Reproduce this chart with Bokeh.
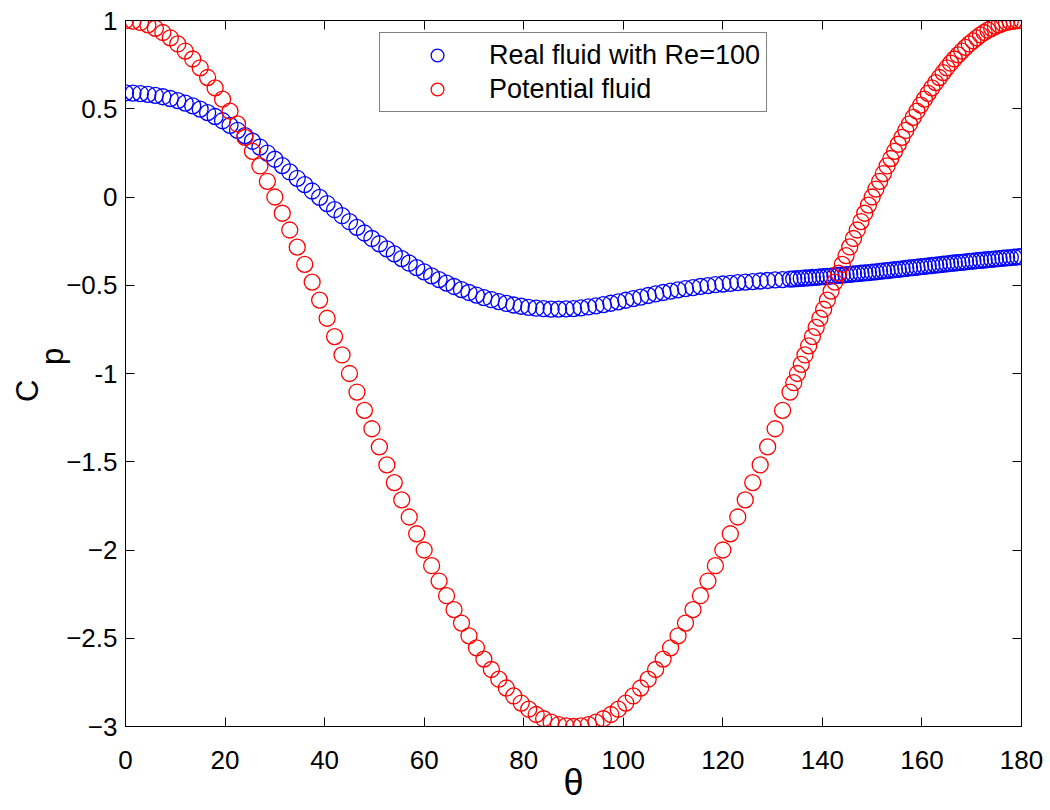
import math
from bokeh.plotting import figure
from bokeh.models import (ColumnDataSource, FixedTicker, LinearAxis, Legend,
                          LegendItem, CustomJSTickFormatter, Range1d)
from bokeh.embed import file_html
from bokeh.resources import INLINE

# ---------------- data ----------------
theta_coarse = [0, 1.5, 3, 4.5, 6, 7.5, 9, 10.5, 12, 13.5,
                15, 16.5, 18, 19.5, 21, 22.5, 24, 25.5, 27, 28.5,
                30, 31.5, 33, 34.5, 36, 37.5, 39, 40.5, 42, 43.5,
                45, 46.5, 48, 49.5, 51, 52.5, 54, 55.5, 57, 58.5,
                60, 61.5, 63, 64.5, 66, 67.5, 69, 70.5, 72, 73.5,
                75, 76.5, 78, 79.5, 81, 82.5, 84, 85.5, 87, 88.5,
                90, 91.5, 93, 94.5, 96, 97.5, 99, 100.5, 102, 103.5,
                105, 106.5, 108, 109.5, 111, 112.5, 114, 115.5, 117, 118.5,
                120, 121.5, 123, 124.5, 126, 127.5, 129, 130.5, 132, 133.5]
theta_fine = [134.25, 135, 135.75, 136.5, 137.25, 138, 138.75, 139.5, 140.25, 141,
              141.75, 142.5, 143.25, 144, 144.75, 145.5, 146.25, 147, 147.75, 148.5,
              149.25, 150, 150.75, 151.5, 152.25, 153, 153.75, 154.5, 155.25, 156,
              156.75, 157.5, 158.25, 159, 159.75, 160.5, 161.25, 162, 162.75, 163.5,
              164.25, 165, 165.75, 166.5, 167.25, 168, 168.75, 169.5, 170.25, 171,
              171.75, 172.5, 173.25, 174, 174.75, 175.5, 176.25, 177, 177.75, 178.5,
              179.25, 180]

cp_real_coarse = [0.590, 0.589, 0.586, 0.582, 0.576, 0.568, 0.558, 0.546, 0.532, 0.516,
                  0.498, 0.478, 0.456, 0.432, 0.406, 0.378, 0.348, 0.316, 0.283, 0.249,
                  0.214, 0.178, 0.142, 0.106, 0.070, 0.034, -0.002, -0.037, -0.072, -0.106,
                  -0.140, -0.172, -0.204, -0.235, -0.265, -0.294, -0.322, -0.349, -0.375, -0.400,
                  -0.424, -0.447, -0.468, -0.488, -0.507, -0.525, -0.541, -0.556, -0.570, -0.582,
                  -0.593, -0.603, -0.612, -0.619, -0.625, -0.630, -0.633, -0.635, -0.635, -0.634,
                  -0.632, -0.628, -0.623, -0.617, -0.610, -0.602, -0.594, -0.585, -0.576, -0.567,
                  -0.558, -0.549, -0.541, -0.533, -0.526, -0.519, -0.513, -0.507, -0.502, -0.497,
                  -0.493, -0.489, -0.485, -0.482, -0.479, -0.476, -0.473, -0.470, -0.468, -0.465]
cp_real_fine = [-0.464, -0.462, -0.461, -0.459, -0.458, -0.456, -0.455, -0.453, -0.451, -0.450,
                -0.448, -0.446, -0.444, -0.442, -0.440, -0.438, -0.436, -0.434, -0.432, -0.430,
                -0.428, -0.426, -0.424, -0.421, -0.419, -0.417, -0.414, -0.412, -0.410, -0.407,
                -0.405, -0.402, -0.400, -0.398, -0.395, -0.393, -0.390, -0.388, -0.386, -0.383,
                -0.381, -0.379, -0.376, -0.374, -0.372, -0.370, -0.367, -0.365, -0.363, -0.361,
                -0.359, -0.357, -0.355, -0.353, -0.351, -0.349, -0.347, -0.345, -0.343, -0.341,
                -0.339, -0.338]

cp_pot_coarse = [1.000, 0.997, 0.989, 0.975, 0.956, 0.932, 0.902, 0.867, 0.827, 0.782,
                 0.732, 0.677, 0.618, 0.554, 0.486, 0.414, 0.338, 0.259, 0.176, 0.089,
                 0.000, -0.092, -0.187, -0.284, -0.382, -0.482, -0.584, -0.687, -0.791, -0.895,
                 -1.000, -1.105, -1.209, -1.313, -1.416, -1.518, -1.618, -1.716, -1.813, -1.908,
                 -2.000, -2.089, -2.176, -2.259, -2.338, -2.414, -2.486, -2.554, -2.618, -2.677,
                 -2.732, -2.782, -2.827, -2.867, -2.902, -2.932, -2.956, -2.975, -2.989, -2.997,
                 -3.000, -2.997, -2.989, -2.975, -2.956, -2.932, -2.902, -2.867, -2.827, -2.782,
                 -2.732, -2.677, -2.618, -2.554, -2.486, -2.414, -2.338, -2.259, -2.176, -2.089,
                 -2.000, -1.908, -1.813, -1.716, -1.618, -1.518, -1.416, -1.313, -1.209, -1.105]
cp_pot_fine = [-1.052, -1.000, -0.948, -0.895, -0.843, -0.791, -0.739, -0.687, -0.636, -0.584,
               -0.533, -0.482, -0.432, -0.382, -0.332, -0.283, -0.235, -0.187, -0.139, -0.092,
               -0.046, 0.000, 0.045, 0.089, 0.133, 0.176, 0.218, 0.259, 0.299, 0.338,
               0.377, 0.414, 0.451, 0.486, 0.521, 0.554, 0.587, 0.618, 0.648, 0.677,
               0.705, 0.732, 0.758, 0.782, 0.805, 0.827, 0.848, 0.867, 0.885, 0.902,
               0.918, 0.932, 0.945, 0.956, 0.967, 0.975, 0.983, 0.989, 0.994, 0.997,
               0.999, 1.000]

x_ticks = [0, 20, 40, 60, 80, 100, 120, 140, 160, 180]
y_ticks = [-3, -2.5, -2, -1.5, -1, -0.5, 0, 0.5, 1]
series_labels = ["Real fluid with Re=100", "Potential fluid"]
x_title = "θ"
NB = "\u00a0"
y_title = "C" + NB * 4 + "\n" + NB * 4 + "p"   # C with subscript p

# ---------------- figure ----------------
FONT = "Liberation Sans"
theta = theta_coarse + theta_fine
src = ColumnDataSource(dict(theta=theta,
                            real=cp_real_coarse + cp_real_fine,
                            pot=cp_pot_coarse + cp_pot_fine))

p = figure(width=1050, height=810, output_backend="svg", toolbar_location=None,
           x_range=Range1d(0, 180), y_range=Range1d(-3, 1),
           min_border_left=125, min_border_right=29, min_border_top=20, min_border_bottom=84)
p.background_fill_color = "white"
p.border_fill_color = "white"
p.outline_line_color = "black"
p.outline_line_width = 1
p.xgrid.visible = False
p.ygrid.visible = False


def style_axis(ax, ticks, show_labels=True):
    ax.ticker = FixedTicker(ticks=ticks)
    ax.major_tick_in = 9
    ax.major_tick_out = 0
    ax.minor_tick_in = 0
    ax.minor_tick_out = 0
    ax.axis_line_color = "black"
    ax.axis_line_width = 1
    ax.major_tick_line_color = "black"
    ax.major_tick_line_width = 1
    ax.major_label_text_font = FONT
    if show_labels:
        ax.major_label_text_font_size = "26px"
        ax.major_label_text_color = "black"
    else:
        ax.major_label_text_font_size = "1px"
        ax.major_label_text_color = None
        ax.major_label_standoff = 0


xa = p.xaxis[0]
ya = p.yaxis[0]
style_axis(xa, x_ticks)
style_axis(ya, y_ticks)
xa.major_label_standoff = 24
ya.major_label_standoff = 8
ya.formatter = CustomJSTickFormatter(
    code="if (tick == -1) { return '-1'; } return tick < 0 ? '\u2212' + String(-tick) : String(tick);")

xa.axis_label = x_title
xa.axis_label_text_font = FONT
xa.axis_label_text_font_size = "36px"
xa.axis_label_text_font_style = "normal"
xa.axis_label_text_color = "black"
xa.axis_label_standoff = -10

ya.axis_label = y_title
ya.axis_label_text_font = FONT
ya.axis_label_text_font_size = "31px"
ya.axis_label_text_font_style = "normal"
ya.axis_label_text_color = "black"
ya.axis_label_text_line_height = 0.72
ya.axis_label_standoff = -7

ax_top = LinearAxis()
style_axis(ax_top, x_ticks, show_labels=False)
p.add_layout(ax_top, "above")
ax_right = LinearAxis()
style_axis(ax_right, y_ticks, show_labels=False)
p.add_layout(ax_right, "right")

r_real = p.scatter(x="theta", y="real", source=src, marker="circle", size=16,
                   fill_color=None, line_color="#0000FF", line_width=1.3)
r_pot = p.scatter(x="theta", y="pot", source=src, marker="circle", size=16,
                  fill_color=None, line_color="#FF0000", line_width=1.3)

legend = Legend(items=[LegendItem(label=series_labels[0], renderers=[r_real]),
                       LegendItem(label=series_labels[1], renderers=[r_pot])],
                location="top_center", margin=12, padding=6, spacing=2,
                glyph_width=102, glyph_height=32, label_height=32, label_standoff=1,
                label_text_font=FONT, label_text_font_size="27px",
                label_text_color="black", label_text_baseline="middle",
                border_line_color="black", border_line_width=1,
                background_fill_color="white", background_fill_alpha=1.0)
p.add_layout(legend)

open("out.html", "w").write(file_html(p, INLINE))
